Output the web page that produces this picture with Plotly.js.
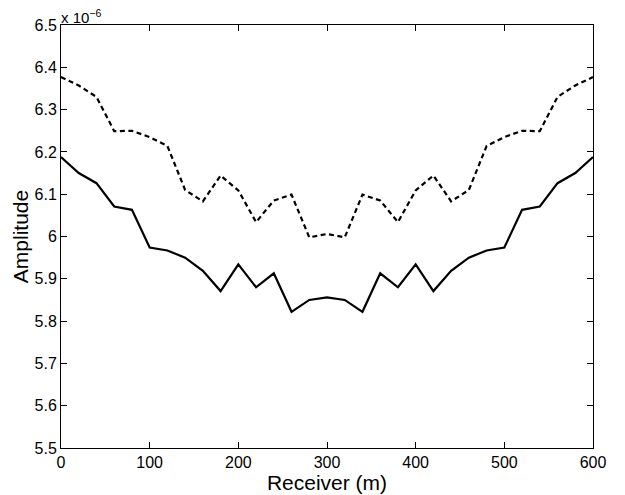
<!DOCTYPE html>
<html>
<head>
<meta charset="utf-8">
<script src="https://cdn.plot.ly/plotly-3.0.1.min.js"></script>
<style>html,body{margin:0;padding:0;background:#fff;}</style>
</head>
<body>
<div id="chart" style="width:625px;height:495px;"></div>
<script>
// Receiver positions (m)
const receivers = [0,20,40,60,80,100,120,140,160,180,200,220,240,260,280,300,
  320,340,360,380,400,420,440,460,480,500,520,540,560,580,600];
// Amplitudes in units of 1e-6
const solidAmp = [6.188,6.150,6.126,6.071,6.063,5.974,5.967,5.950,5.919,5.871,5.934,5.880,5.913,5.822,5.850,5.856,
  5.850,5.822,5.913,5.880,5.934,5.871,5.919,5.950,5.967,5.974,6.063,6.071,6.126,6.150,6.188];
const dashedAmp = [6.377,6.357,6.330,6.249,6.250,6.235,6.214,6.110,6.083,6.144,6.109,6.034,6.085,6.099,5.998,6.006,
  5.998,6.099,6.085,6.034,6.109,6.144,6.083,6.110,6.214,6.235,6.250,6.249,6.330,6.357,6.377];
const yTicks = [5.5,5.6,5.7,5.8,5.9,6,6.1,6.2,6.3,6.4,6.5];
const xTicks = [0,100,200,300,400,500,600];

const font = 'Liberation Sans, Arial, Helvetica, sans-serif';

const traces = [
  {x: receivers, y: dashedAmp, mode: 'lines', line: {color: '#000', width: 2.2, dash: '5px,3.5px'}, hoverinfo: 'none'},
  {x: receivers, y: solidAmp, mode: 'lines', line: {color: '#000', width: 2.2}, hoverinfo: 'none'}
];

const axisCommon = {
  showgrid: false, zeroline: false, showline: true, linecolor: '#000', linewidth: 1,
  mirror: 'ticks', ticks: 'inside', ticklen: 6, tickcolor: '#000', tickwidth: 1,
  tickfont: {family: font, size: 16, color: '#000'}
};

const layout = {
  width: 625, height: 495,
  margin: {l: 61, r: 32, t: 25, b: 47},
  paper_bgcolor: '#fff', plot_bgcolor: '#fff',
  showlegend: false,
  xaxis: Object.assign({}, axisCommon, {
    range: [0, 600], tickvals: xTicks,
    title: {text: 'Receiver (m)', font: {family: font, size: 21, color: '#000'}, standoff: 0}
  }),
  yaxis: Object.assign({}, axisCommon, {
    range: [5.5, 6.5], tickvals: yTicks,
    title: {text: 'Amplitude', font: {family: font, size: 21, color: '#000'}, standoff: 0}
  }),
  annotations: [{
    xref: 'paper', yref: 'paper', x: 0, y: 1, xanchor: 'left', yanchor: 'bottom',
    text: 'x 10<sup>\u22126</sup>', showarrow: false, xshift: -2, yshift: -3,
    font: {family: font, size: 15, color: '#000'}
  }]
};

Plotly.newPlot('chart', traces, layout, {staticPlot: true, displayModeBar: false});
</script>
</body>
</html>
